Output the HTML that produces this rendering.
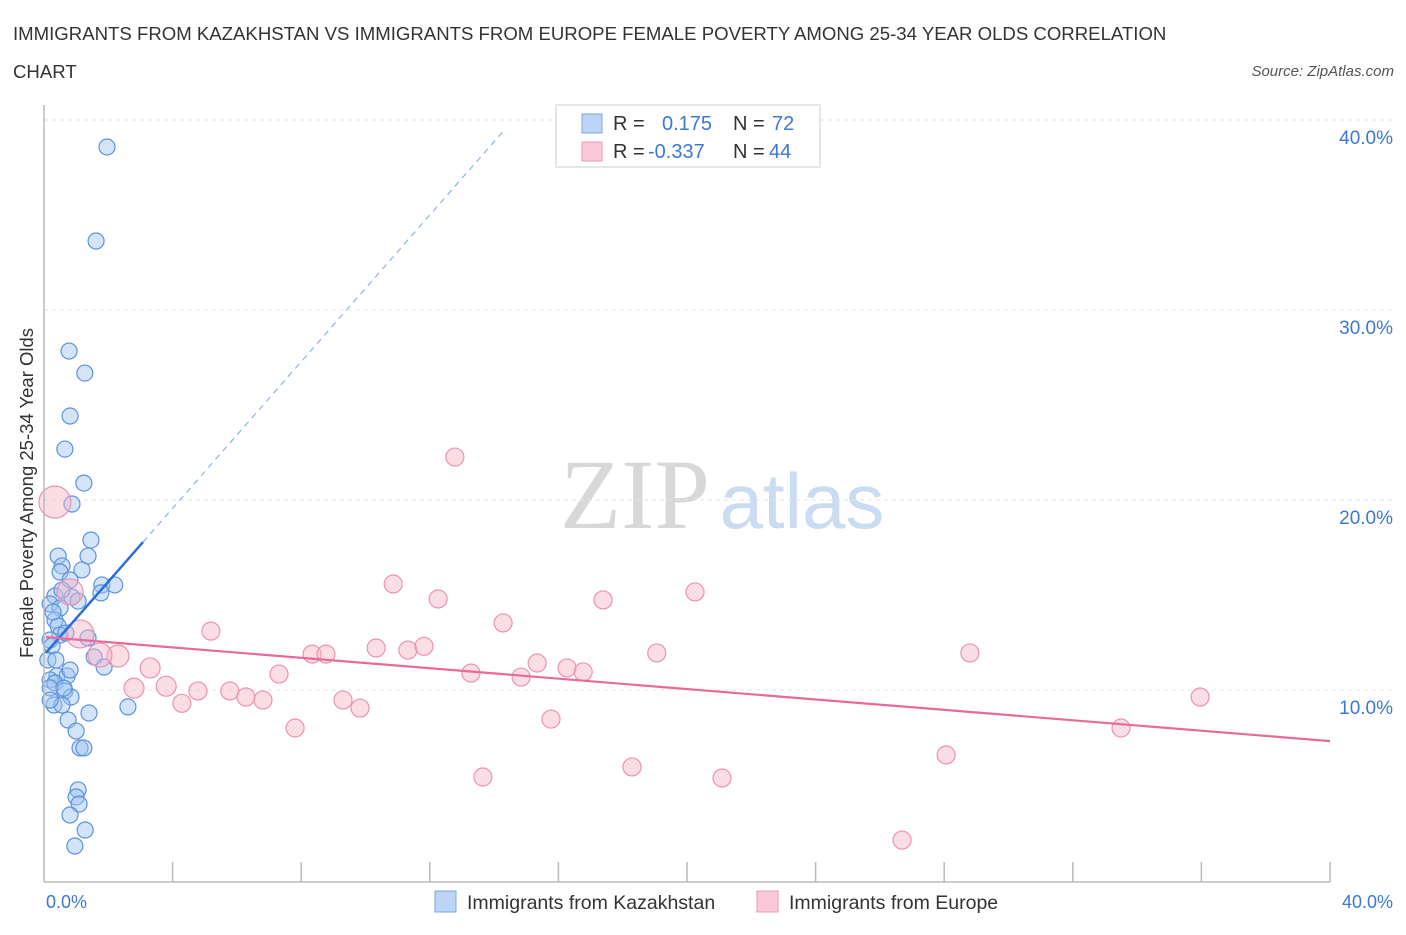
<!DOCTYPE html>
<html><head><meta charset="utf-8"><style>
body{margin:0;background:#fff;font-family:"Liberation Sans",sans-serif;}
</style></head><body>
<svg id="c" width="1406" height="930" font-family="Liberation Sans, sans-serif">
<text x="13" y="40" font-size="18.6" fill="#333">IMMIGRANTS FROM KAZAKHSTAN VS IMMIGRANTS FROM EUROPE FEMALE POVERTY AMONG 25-34 YEAR OLDS CORRELATION</text>
<text x="13" y="78" font-size="18.6" fill="#333">CHART</text>
<text x="1394" y="76" font-size="15" fill="#555" font-style="italic" text-anchor="end">Source: ZipAtlas.com</text>
<text x="635" y="528" font-size="100" fill="#d8d8d8" style="font-family:'Liberation Serif',serif" text-anchor="middle">ZIP</text>
<text x="802" y="528" font-size="78" fill="#c9dcf2" text-anchor="middle">atlas</text>
<g id="grid"></g><g id="pts"></g><g id="lines"></g>
<line x1="44" y1="105" x2="44" y2="882" stroke="#bbb" stroke-width="1.5"/>
<line x1="44" y1="882" x2="1330" y2="882" stroke="#bbb" stroke-width="1.5"/>
<text x="33" y="493" font-size="18.5" fill="#333" text-anchor="middle" transform="rotate(-90 33 493)">Female Poverty Among 25-34 Year Olds</text>
<text x="46" y="908" font-size="18" fill="#3b78d8">0.0%</text>
<text x="1393" y="908" font-size="18" fill="#3b78d8" text-anchor="end">40.0%</text>
<g>
<rect x="556" y="105" width="264" height="62" fill="#fff" stroke="#ccc"/>
<rect x="582" y="114" width="20" height="19" fill="#bcd4f5" stroke="#7aa7e6"/>
<rect x="582" y="142" width="20" height="19" fill="#f9c9d8" stroke="#ee9ab5"/>
<text x="613" y="130" font-size="20" fill="#333">R =</text><text x="662" y="130" font-size="20" fill="#3b78d8">0.175</text>
<text x="733" y="130" font-size="20" fill="#333">N =</text><text x="772" y="130" font-size="20" fill="#3b78d8">72</text>
<text x="613" y="158" font-size="20" fill="#333">R =</text><text x="648" y="158" font-size="20" fill="#3b78d8">-0.337</text>
<text x="733" y="158" font-size="20" fill="#333">N =</text><text x="769" y="158" font-size="20" fill="#3b78d8">44</text>
</g>
<g>
<rect x="435" y="891" width="21" height="21" fill="#bcd4f5" stroke="#7aa7e6"/>
<text x="467" y="909" font-size="19.5" fill="#333">Immigrants from Kazakhstan</text>
<rect x="757" y="891" width="21" height="21" fill="#f9c9d8" stroke="#ee9ab5"/>
<text x="789" y="909" font-size="19.5" fill="#333">Immigrants from Europe</text>
</g>
</svg>
<script>
const yTicks=[10,20,30,40];
const xTicks=[4,8,12,16,20,24,28,32,36,40];
const blueX=[1.96,1.62,0.78,1.27,0.81,0.65,1.24,0.87,1.46,0.44,1.37,0.56,0.5,1.18,0.81,1.8,2.2,1.77,0.34,0.87,1.06,0.19,0.5,0.34,0.44,0.5,0.19,0.68,1.37,0.25,1.56,1.87,0.4,0.72,0.19,0.34,0.65,0.19,0.84,2.61,1.4,0.31,0.56,0.75,1.0,1.12,1.24,1.06,1.0,1.09,0.81,1.28,0.96,0.19,0.28,0.56,0.12,0.37,0.62,0.81];
const blueY=[38.58,33.63,27.84,26.68,24.42,22.68,20.89,19.79,17.89,17.05,17.05,16.53,16.21,16.32,15.79,15.53,15.53,15.11,14.95,14.89,14.68,14.53,14.32,13.68,13.37,12.89,12.63,13.0,12.74,12.32,11.74,11.21,10.74,10.74,10.53,10.37,9.95,10.11,9.63,9.11,8.79,9.21,9.21,8.42,7.84,6.95,6.95,4.74,4.37,4.0,3.42,2.63,1.79,9.47,14.1,15.26,11.58,11.58,10.1,11.05];
const pinkX=[0.34,1.12,2.3,2.8,3.3,3.8,4.29,4.79,5.19,5.78,6.28,6.81,7.31,7.81,8.34,8.77,9.3,9.83,10.33,10.86,11.32,11.82,12.26,12.78,13.28,13.65,14.28,14.84,15.34,15.77,16.27,16.77,17.39,18.29,19.06,20.25,21.09,26.69,28.06,28.8,33.5,35.96,0.81,1.74];
const pinkY=[19.89,12.95,11.79,10.1,11.16,10.2,9.3,9.95,13.1,9.95,9.63,9.47,10.84,8.0,11.89,11.89,9.47,9.05,12.21,15.58,12.1,12.3,14.79,22.26,10.89,5.42,13.53,10.68,11.42,8.47,11.16,10.95,14.74,5.95,11.95,15.16,5.37,2.1,6.58,11.95,8.0,9.63,15.16,11.84];
const pinkR=[16,14,11,10,10,10,9,9,9,9,9,9,9,9,9,9,9,9,9,9,9,9,9,9,9,9,9,9,9,9,9,9,9,9,9,9,9,9,9,9,9,9,13,12];
const blueLine=[11.84,1.93];
const pinkLine=[12.79,-0.137];
const X=v=>44+v*32.15, Y=v=>880-v*19.0;
const NS='http://www.w3.org/2000/svg';
function mk(tag,attrs,parent){const e=document.createElementNS(NS,tag);for(const k in attrs)e.setAttribute(k,attrs[k]);document.getElementById(parent).appendChild(e);return e;}
yTicks.forEach(t=>{
 const l=mk('line',{x1:44,x2:1394,y1:Y(t),y2:Y(t),stroke:'#e3e3e3','stroke-dasharray':'4,4'},'grid');
 
 
 const tx=mk('text',{x:1393,y:Y(t)+24,'font-size':19,fill:'#3b78d8','text-anchor':'end'},'grid');
 tx.textContent=t.toFixed(1)+'%';
 
 
});
xTicks.forEach(t=>{
 const l=mk('line',{x1:X(t),x2:X(t),y1:862,y2:882,stroke:'#bbb','stroke-width':1.5},'grid');
 
 
});
blueX.forEach((v,i)=>{
 const c=mk('circle',{cx:X(v),cy:Y(blueY[i]),r:8,fill:'rgba(160,196,240,0.45)',stroke:'#5b93dd','stroke-width':1.2},'pts');
 
 
});
pinkX.forEach((v,i)=>{
 const c=mk('circle',{cx:X(v),cy:Y(pinkY[i]),r:pinkR[i],fill:'rgba(246,180,200,0.45)',stroke:'#ec93b0','stroke-width':1.2},'pts');
 
 
});
const bx1=0.06,bx2=3.08,bx3=14.35;
let l=mk('line',{x1:X(bx1),y1:Y(blueLine[0]+blueLine[1]*bx1),x2:X(bx2),y2:Y(blueLine[0]+blueLine[1]*bx2),stroke:'#2a6fd8','stroke-width':2.5},'lines');


l=mk('line',{x1:X(bx2),y1:Y(blueLine[0]+blueLine[1]*bx2),x2:X(bx3),y2:Y(blueLine[0]+blueLine[1]*bx3),stroke:'#8fb3e6','stroke-width':1.2,'stroke-dasharray':'6,5'},'lines');


l=mk('line',{x1:X(0.06),y1:Y(pinkLine[0]+pinkLine[1]*0.06),x2:X(40),y2:Y(pinkLine[0]+pinkLine[1]*40),stroke:'#e8699a','stroke-width':2.2},'lines');


</script>
</body></html>
